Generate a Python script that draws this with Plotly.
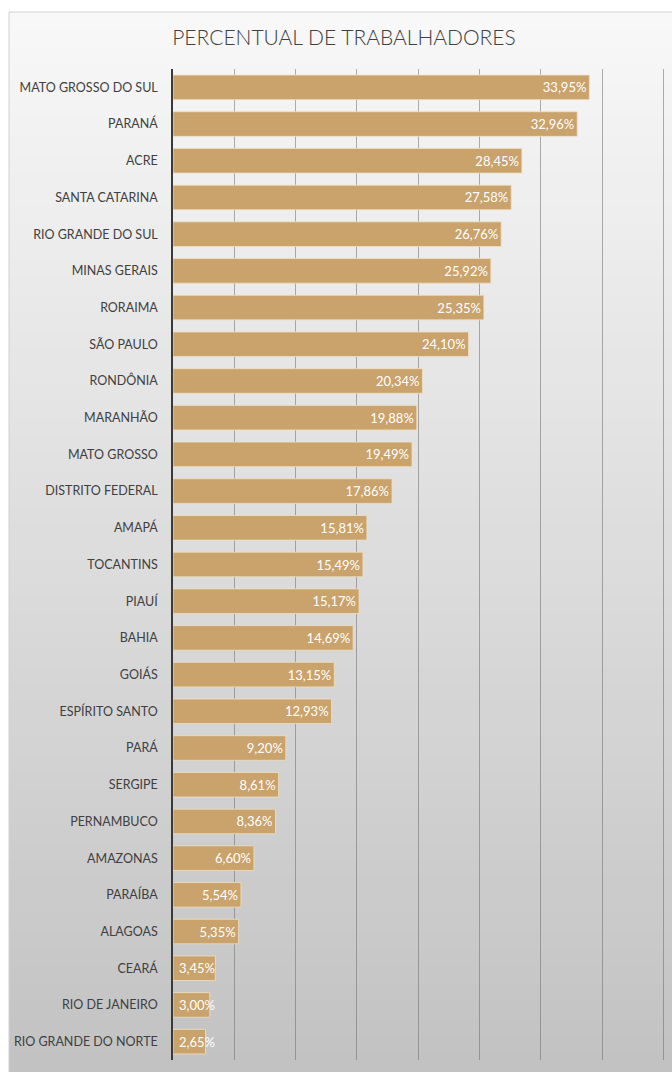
import plotly.graph_objects as go

estados = ["MATO GROSSO DO SUL", "PARANÁ", "ACRE", "SANTA CATARINA", "RIO GRANDE DO SUL",
           "MINAS GERAIS", "RORAIMA", "SÃO PAULO", "RONDÔNIA", "MARANHÃO", "MATO GROSSO",
           "DISTRITO FEDERAL", "AMAPÁ", "TOCANTINS", "PIAUÍ", "BAHIA", "GOIÁS",
           "ESPÍRITO SANTO", "PARÁ", "SERGIPE", "PERNAMBUCO", "AMAZONAS", "PARAÍBA",
           "ALAGOAS", "CEARÁ", "RIO DE JANEIRO", "RIO GRANDE DO NORTE"]
percentuais = [33.95, 32.96, 28.45, 27.58, 26.76, 25.92, 25.35, 24.10, 20.34, 19.88, 19.49,
               17.86, 15.81, 15.49, 15.17, 14.69, 13.15, 12.93, 9.20, 8.61, 8.36, 6.60, 5.54,
               5.35, 3.45, 3.00, 2.65]
rotulos = [f"{v:.2f}".replace(".", ",") + "%" for v in percentuais]
titulo = "PERCENTUAL DE TRABALHADORES"

W, H = 672, 1072
AX_L, AX_R, AX_T, AX_B = 173, 666, 69, 1060
ml, mr, mt, mb = AX_L, W - AX_R, AX_T, H - AX_B
pw, ph = W - ml - mr, H - mt - mb

def px_x(p):  # pixel -> paper
    return (p - AX_L) / pw

def px_y(p):
    return 1 - (p - AX_T) / ph

# background gradient (decoration)
shapes = []
n = 60
top_px, bot_px = 12, H
c0, c1 = 248, 194
for i in range(n):
    y0 = top_px + (bot_px - top_px) * i / n
    y1 = top_px + (bot_px - top_px) * (i + 1) / n
    t = (i + 0.5) / n
    c = int(round(c0 + (c1 - c0) * t))
    shapes.append(dict(type="rect", xref="paper", yref="paper", layer="below",
                       x0=px_x(9), x1=px_x(W + 2), y0=px_y(y0), y1=px_y(y1 + 0.6),
                       fillcolor=f"rgb({c},{c},{c})", line=dict(width=0)))
shapes.append(dict(type="rect", xref="paper", yref="paper", layer="below",
                   x0=px_x(9), x1=px_x(W + 5), y0=px_y(12), y1=px_y(H + 5),
                   fillcolor="rgba(0,0,0,0)", line=dict(color="#d0d0d0", width=1)))

LIMIAR = 4.0
posicoes = ["inside" if v >= LIMIAR else "none" for v in percentuais]

fig = go.Figure(go.Bar(
    x=percentuais, y=estados, orientation="h",
    text=rotulos, textposition=posicoes, insidetextanchor="end",
    constraintext="none",
    textfont=dict(family="Lato", size=13, color="white"),
    marker=dict(color="rgb(201,162,108)", line=dict(color="rgba(240,225,195,0.8)", width=1)),
    cliponaxis=False,
))

annotations = []
for est, v, r in zip(estados, percentuais, rotulos):
    if v < LIMIAR:
        annotations.append(dict(x=0, y=est, xref="x", yref="y", text=r, showarrow=False,
                                xanchor="left", xshift=4,
                                font=dict(family="Lato", size=13, color="white")))

fig.update_layout(
    width=W, height=H,
    margin=dict(l=ml, r=mr, t=mt, b=mb, autoexpand=False),
    paper_bgcolor="white", plot_bgcolor="rgba(0,0,0,0)",
    bargap=0.33,
    showlegend=False,
    shapes=shapes,
    annotations=annotations,
    title=dict(text=titulo, x=344 / W, xref="container", xanchor="center",
               y=1 - 38 / H, yref="container", yanchor="middle",
               font=dict(family="Lato", size=21, color="#404040", weight=300)),
    xaxis=dict(range=[0, 40.2], tickvals=[5, 10, 15, 20, 25, 30, 35, 40],
               showticklabels=False, showgrid=True,
               gridcolor="rgba(110,110,110,0.55)", gridwidth=1, zeroline=False,
               showline=False, fixedrange=True, automargin=False),
    yaxis=dict(autorange="reversed", showline=True, linecolor="#3a3a3a", linewidth=1.5,
               ticks="", ticklabelstandoff=11, automargin=False,
               tickfont=dict(family="Lato", size=12.5, color="#404040")),
)

fig.write_html("out.html", config={"displayModeBar": False},
               post_script="document.body.style.margin='0';document.body.style.overflow='hidden';")
